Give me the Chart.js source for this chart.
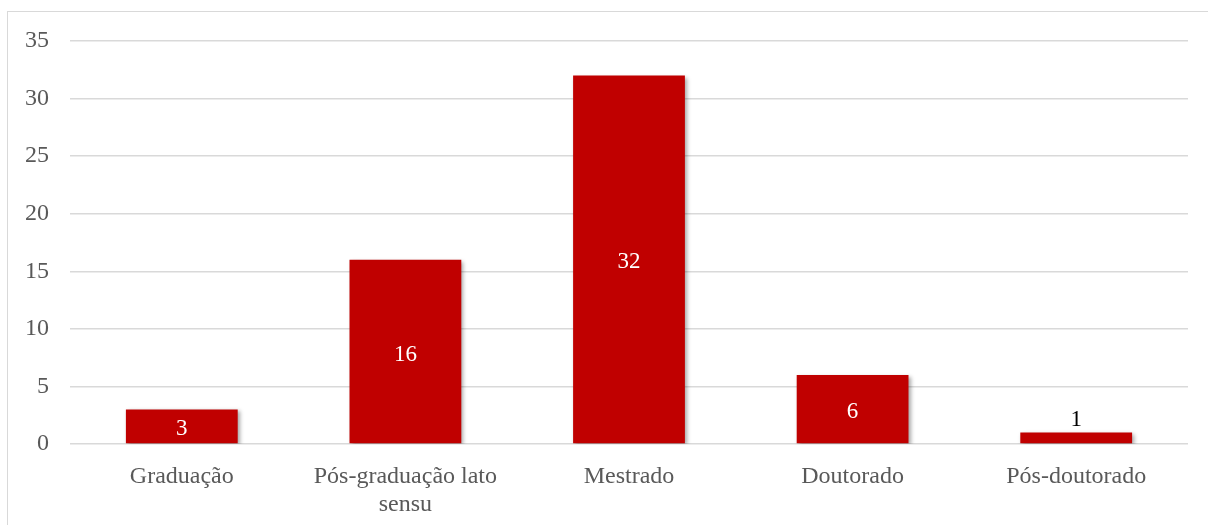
<!DOCTYPE html>
<html>
<head>
<meta charset="utf-8">
<script src="https://cdn.jsdelivr.net/npm/chart.js@4"></script>
<style>
  html, body { margin: 0; padding: 0; background: #ffffff; overflow: hidden; }
  #frame { position: absolute; left: 7px; top: 11px; width: 1220px; height: 540px; border: 1px solid #d9d9d9; box-sizing: border-box; }
  #wrap { position: absolute; left: 0; top: 0; width: 1208px; height: 525px; }
</style>
</head>
<body>
<div id="frame"></div>
<div id="wrap"><canvas id="c"></canvas></div>
<script>
const categories = ["Graduação", ["Pós-graduação lato", "sensu"], "Mestrado", "Doutorado", "Pós-doutorado"];
const values = [3, 16, 32, 6, 1];
const yTicks = [0, 5, 10, 15, 20, 25, 30, 35];

const FONT = "'Liberation Serif', 'Times New Roman', serif";

const valueLabels = {
  id: 'valueLabels',
  afterDatasetsDraw(chart) {
    const ctx = chart.ctx;
    const meta = chart.getDatasetMeta(0);
    ctx.save();
    ctx.font = "23px " + FONT;
    ctx.textAlign = 'center';
    meta.data.forEach((bar, i) => {
      const h = bar.base - bar.y;
      if (h < 20) {
        ctx.fillStyle = '#000000';
        ctx.textBaseline = 'bottom';
        ctx.fillText(String(values[i]), bar.x, bar.y - 1);
      } else {
        ctx.fillStyle = '#ffffff';
        ctx.textBaseline = 'middle';
        ctx.fillText(String(values[i]), bar.x, (bar.y + bar.base) / 2 + 3);
      }
    });
    ctx.restore();
  }
};

const barShadow = {
  id: 'barShadow',
  beforeDatasetsDraw(chart) {
    const ctx = chart.ctx;
    ctx.save();
    ctx.shadowColor = 'rgba(0,0,0,0.35)';
    ctx.shadowBlur = 4;
    ctx.shadowOffsetX = 2;
    ctx.shadowOffsetY = 2;
  },
  afterDatasetsDraw(chart) {
    chart.ctx.restore();
  }
};

new Chart(document.getElementById('c'), {
  type: 'bar',
  data: {
    labels: categories,
    datasets: [{
      data: values,
      backgroundColor: '#C00000',
      borderWidth: 0,
      barPercentage: 0.5,
      categoryPercentage: 1.0
    }]
  },
  options: {
    responsive: true,
    maintainAspectRatio: false,
    animation: false,
    layout: { padding: { left: 0, right: 20, top: 41, bottom: 0 } },
    plugins: { legend: { display: false }, tooltip: { enabled: false } },
    scales: {
      x: {
        grid: { display: false, drawTicks: false },
        border: { display: false },
        ticks: {
          color: '#595959',
          font: { family: FONT, size: 24, lineHeight: 1.15 },
          padding: 19,
          maxRotation: 0,
          autoSkip: false
        },
        afterFit(scale) { scale.height = 81; }
      },
      y: {
        min: 0,
        max: 35,
        afterBuildTicks(scale) { scale.ticks = yTicks.map(v => ({ value: v })); },
        grid: { color: '#d9d9d9', lineWidth: 1.5, drawTicks: false },
        border: { display: false },
        ticks: {
          color: '#595959',
          font: { family: FONT, size: 24 },
          padding: 21
        },
        afterFit(scale) { scale.width = 70; }
      }
    }
  },
  plugins: [barShadow, valueLabels]
});
</script>
</body>
</html>
